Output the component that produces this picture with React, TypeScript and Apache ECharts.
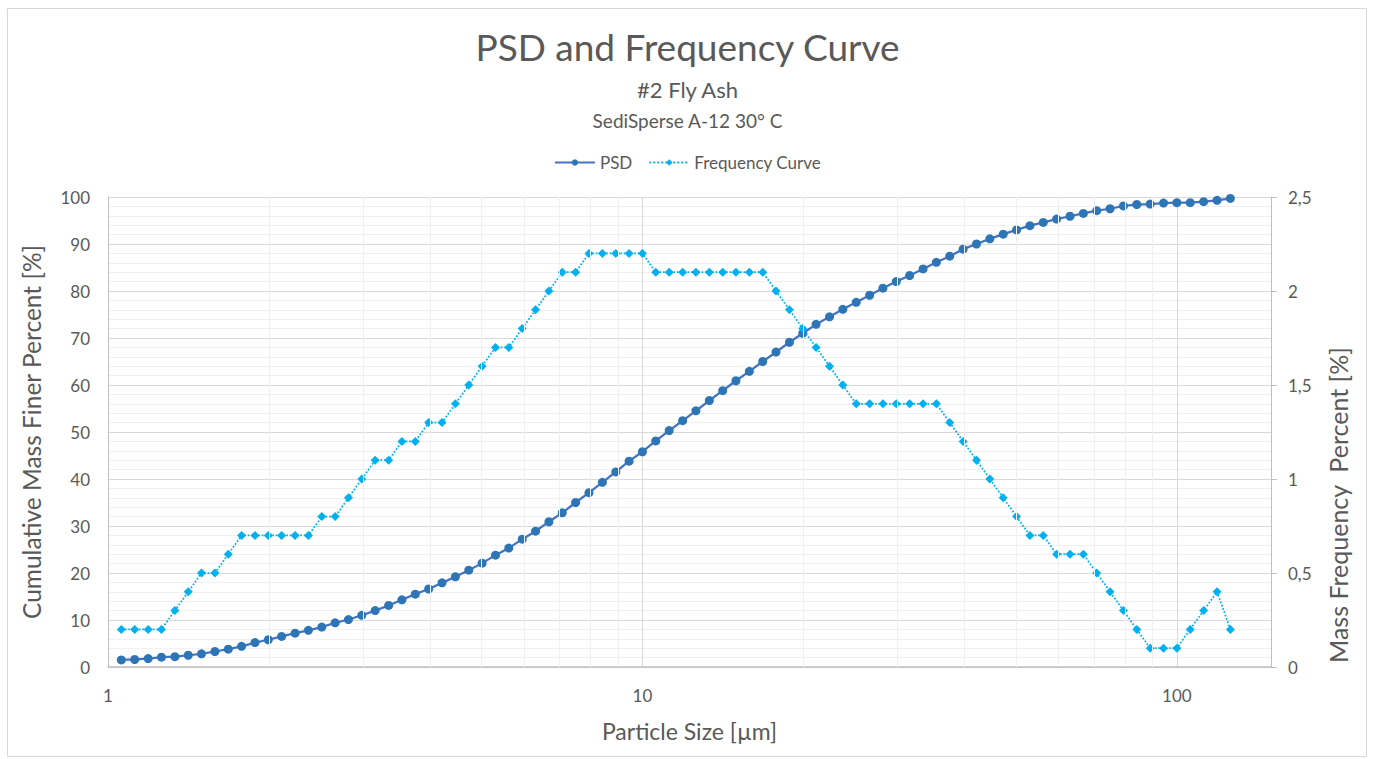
import React, { useEffect, useRef } from 'react';
import * as echarts from 'echarts';

// Particle sizes [µm] (log-spaced, 40 per decade)
const sizes = [
  1.059, 1.122, 1.189, 1.259, 1.334, 1.413, 1.496, 1.585, 1.679, 1.778,
  1.884, 1.995, 2.113, 2.239, 2.371, 2.512, 2.661, 2.818, 2.985, 3.162,
  3.350, 3.548, 3.758, 3.981, 4.217, 4.467, 4.732, 5.012, 5.309, 5.623,
  5.957, 6.310, 6.683, 7.079, 7.499, 7.943, 8.414, 8.913, 9.441, 10.00,
  10.59, 11.22, 11.89, 12.59, 13.34, 14.13, 14.96, 15.85, 16.79, 17.78,
  18.84, 19.95, 21.13, 22.39, 23.71, 25.12, 26.61, 28.18, 29.85, 31.62,
  33.50, 35.48, 37.58, 39.81, 42.17, 44.67, 47.32, 50.12, 53.09, 56.23,
  59.57, 63.10, 66.83, 70.79, 74.99, 79.43, 84.14, 89.13, 94.41, 100.0,
  105.9, 112.2, 118.9, 125.9,
];

// Cumulative mass finer percent [%]
const psd = [
  1.5, 1.6, 1.8, 2.1, 2.2, 2.5, 2.8, 3.3, 3.8, 4.4,
  5.2, 5.8, 6.5, 7.2, 7.8, 8.5, 9.4, 10.1, 11.0, 12.0,
  13.1, 14.3, 15.5, 16.6, 17.9, 19.2, 20.6, 22.1, 23.8, 25.3,
  27.2, 28.9, 30.9, 32.8, 35.0, 37.1, 39.3, 41.5, 43.8, 45.8,
  48.1, 50.3, 52.4, 54.5, 56.7, 58.8, 60.9, 62.9, 65.0, 67.0,
  69.1, 71.0, 72.9, 74.5, 76.1, 77.6, 79.1, 80.6, 82.0, 83.3,
  84.7, 86.1, 87.4, 88.9, 90.0, 91.1, 92.1, 93.0, 93.9, 94.6,
  95.3, 95.9, 96.5, 97.1, 97.5, 98.1, 98.4, 98.5, 98.7, 98.8,
  98.8, 99.0, 99.3, 99.7,
];

// Mass frequency percent [%]
const freq = [
  0.2, 0.2, 0.2, 0.2, 0.3, 0.4, 0.5, 0.5, 0.6, 0.7,
  0.7, 0.7, 0.7, 0.7, 0.7, 0.8, 0.8, 0.9, 1.0, 1.1,
  1.1, 1.2, 1.2, 1.3, 1.3, 1.4, 1.5, 1.6, 1.7, 1.7,
  1.8, 1.9, 2.0, 2.1, 2.1, 2.2, 2.2, 2.2, 2.2, 2.2,
  2.1, 2.1, 2.1, 2.1, 2.1, 2.1, 2.1, 2.1, 2.1, 2.0,
  1.9, 1.8, 1.7, 1.6, 1.5, 1.4, 1.4, 1.4, 1.4, 1.4,
  1.4, 1.4, 1.3, 1.2, 1.1, 1.0, 0.9, 0.8, 0.7, 0.7,
  0.6, 0.6, 0.6, 0.5, 0.4, 0.3, 0.2, 0.1, 0.1, 0.1,
  0.2, 0.3, 0.4, 0.2,
];

const xTickLabels = [1, 10, 100];
const minorGridSizes = [2, 3, 4, 5, 6, 7, 8, 9, 20, 30, 40, 50, 60, 70, 80, 90];

export default function App() {
  const ref = useRef<HTMLDivElement>(null);

  useEffect(() => {
    const chart = echarts.init(ref.current as HTMLDivElement, null, { renderer: 'svg' });
    const font = 'Lato, "Open Sans", sans-serif';
    const textColor = '#595959';

    chart.setOption({
      animation: false,
      backgroundColor: '#ffffff',
      textStyle: { fontFamily: font },
      title: [
        {
          text: 'PSD and Frequency Curve',
          left: 'center',
          top: 23,
          textStyle: { fontSize: 37, fontWeight: 'normal', color: textColor, fontFamily: font },
        },
        {
          text: '#2 Fly Ash',
          left: 'center',
          top: 73,
          textStyle: { fontSize: 22, fontWeight: 'normal', color: textColor, fontFamily: font },
        },
        {
          text: 'SediSperse A-12 30° C',
          left: 'center',
          top: 106,
          textStyle: { fontSize: 19, fontWeight: 'normal', color: textColor, fontFamily: font },
        },
      ],
      legend: {
        data: ['PSD', 'Frequency Curve'],
        top: 149,
        left: 'center',
        itemWidth: 40,
        itemHeight: 8,
        itemGap: 16,
        textStyle: { fontSize: 17, color: textColor, fontFamily: font },
      },
      grid: { left: 108, right: 104, top: 197, bottom: 92 },
      xAxis: {
        type: 'log',
        logBase: 10,
        min: 1,
        max: 150,
        name: 'Particle Size [µm]',
        nameLocation: 'middle',
        nameGap: 52,
        nameTextStyle: { fontSize: 23, color: textColor, fontFamily: font },
        axisLine: { show: true, lineStyle: { color: '#bfbfbf', width: 1.5 } },
        axisTick: { show: false },
        axisLabel: {
          color: textColor,
          fontSize: 17,
          margin: 20,
          fontFamily: font,
          formatter: (v: number) => {
            const r = Math.round(v);
            return xTickLabels.includes(r) && Math.abs(v - r) < 1e-6 ? String(r) : '';
          },
        },
        splitLine: { show: true, lineStyle: { color: '#d9d9d9', width: 1 } },
      },
      yAxis: [
        {
          type: 'value',
          min: 0,
          max: 100,
          interval: 10,
          name: 'Cumulative Mass Finer Percent [%]',
          nameLocation: 'middle',
          nameGap: 64,
          nameTextStyle: { fontSize: 24.5, color: textColor, fontFamily: font },
          axisLine: { show: true, lineStyle: { color: '#bfbfbf', width: 1 } },
          axisTick: { show: false },
          axisLabel: { color: textColor, fontSize: 17, margin: 18, fontFamily: font },
          splitLine: { show: true, lineStyle: { color: '#d9d9d9', width: 1 } },
          minorTick: { show: false, splitNumber: 5 },
          minorSplitLine: { show: true, lineStyle: { color: '#f0f0f0', width: 1 } },
        },
        {
          type: 'value',
          min: 0,
          max: 2.5,
          interval: 0.5,
          position: 'right',
          axisLine: { show: true, lineStyle: { color: '#bfbfbf', width: 1 } },
          axisTick: { show: true, length: 6, lineStyle: { color: '#bfbfbf' } },
          axisLabel: {
            color: textColor,
            fontSize: 17,
            margin: 17,
            fontFamily: font,
            formatter: (v: number) => String(v).replace('.', ','),
          },
          splitLine: { show: false },
        },
      ],
      graphic: [
        {
          type: 'rect',
          shape: { x: 7.5, y: 8.5, width: 1359, height: 748 },
          style: { fill: 'none', stroke: '#d9d9d9', lineWidth: 1 },
          silent: true,
        },
        {
          type: 'text',
          x: 1338,
          y: 505,
          rotation: Math.PI / 2,
          style: {
            text: 'Mass Frequency  Percent [%]',
            fontSize: 25,
            fill: textColor,
            fontFamily: font,
            align: 'center',
            verticalAlign: 'middle',
          },
          silent: true,
        },
      ],
      series: [
        {
          name: 'minor-grid',
          type: 'line',
          data: [],
          z: 1,
          silent: true,
          markLine: {
            silent: true,
            symbol: ['none', 'none'],
            label: { show: false },
            lineStyle: { color: '#f0f0f0', type: 'solid', width: 1 },
            emphasis: { disabled: true },
            data: minorGridSizes.map((v) => ({ xAxis: v })),
          },
        },
        {
          name: 'PSD',
          type: 'line',
          yAxisIndex: 0,
          z: 3,
          data: sizes.map((x, i) => [x, psd[i]]),
          symbol: 'circle',
          symbolSize: 9,
          itemStyle: { color: '#2E75B6' },
          lineStyle: { color: '#4472C4', width: 2.25 },
          emphasis: { disabled: true },
        },
        {
          name: 'Frequency Curve',
          type: 'line',
          yAxisIndex: 1,
          z: 4,
          data: sizes.map((x, i) => [x, freq[i]]),
          symbol: 'diamond',
          symbolSize: 9,
          itemStyle: { color: '#00B0F0' },
          lineStyle: { color: '#00B0F0', width: 1.75, type: 'dotted' },
          emphasis: { disabled: true },
        },
      ],
    });

    return () => {
      chart.dispose();
    };
  }, []);

  return (
    <div
      ref={ref}
      style={{ position: 'absolute', left: 0, top: 0, width: 1375, height: 759 }}
    />
  );
}
